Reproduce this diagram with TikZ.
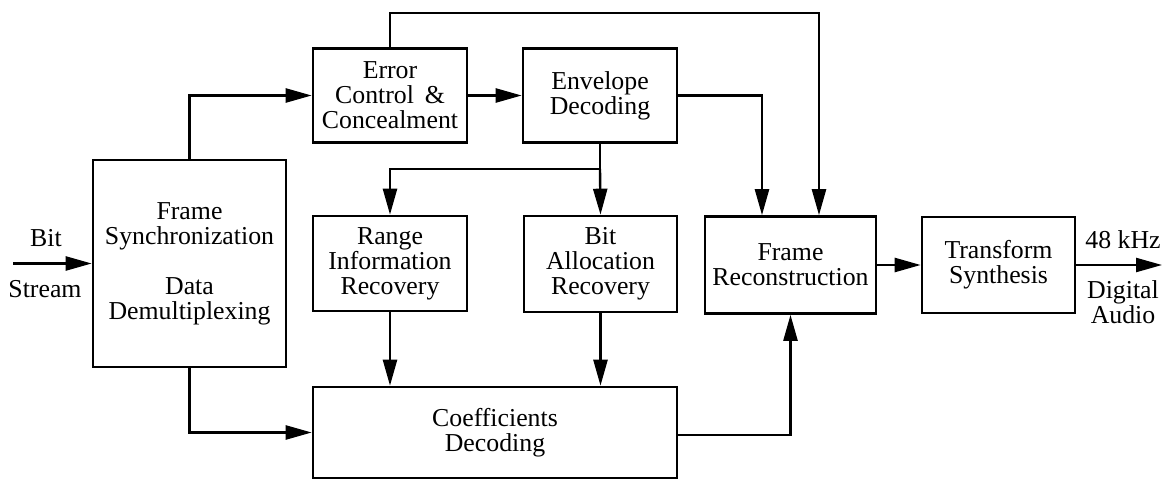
\documentclass[tikz,border=0pt]{standalone}
\usepackage{fontspec}
\setmainfont{Liberation Serif}
\usetikzlibrary{arrows.meta,calc}
\begin{document}
\begin{tikzpicture}[x=0.5pt,y=-0.5pt,
  font=\fontsize{12.9pt}{12.5pt}\selectfont\rmfamily,
  blk/.style={draw,line width=1.3pt,align=center,inner sep=0pt,
    minimum width=#1},
  arr/.style={line width=1.2pt,-{Triangle[length=13pt,width=7pt]}},
  ln/.style={line width=1.2pt},
  lbl/.style={align=center,inner sep=0pt}]
\useasboundingbox (0,0) rectangle (1172,481);

% processing blocks
\node[blk=96.5pt,minimum height=103.5pt] (sync) at (189.5,263.5)
  {Frame\\Synchronization\\[12.5pt]Data\\Demultiplexing};
\node[blk=77pt,minimum height=47pt] (err) at (390,95.5)
  {Error\\Control \,\&\\Concealment};
\node[blk=77pt,minimum height=47pt] (env) at (600,95.5)
  {Envelope\\Decoding};
\node[blk=77pt,minimum height=47.5pt] (range) at (390,263.5)
  {Range\\Information\\Recovery};
\node[blk=76.5pt,minimum height=48pt] (alloc) at (600.5,264)
  {Bit\\Allocation\\Recovery};
\node[blk=85.5pt,minimum height=48.5pt] (recon) at (790.5,265)
  {Frame\\Reconstruction};
\node[blk=76.5pt,minimum height=48pt] (trans) at (998.5,265)
  {Transform\\Synthesis};
\node[blk=182pt,minimum height=45.5pt] (coeff) at (495,432.5)
  {Coefficients\\Decoding};

% free ends and bends
\coordinate (in) at (13,263.5);
\coordinate (out) at (1162,265);
\coordinate (top) at (819,13);
\coordinate (split) at (600,169);
\coordinate (rA) at ($(recon.north)+(-28.5,0)$);
\coordinate (rB) at ($(recon.north)+(28.5,0)$);

% external labels
\node[lbl] (bitlbl) at (46,238) {Bit};
\node[lbl] (streamlbl) at (45,289) {Stream};
\node[lbl] (khz) at (1123,240) {48 kHz};
\node[lbl] (audio) at (1123,302) {Digital\\Audio};

% connectors
\draw[arr] (in) -- (sync.west);
\draw[arr] (sync.north) |- (err.west);
\draw[arr] (err.east) -- (env.west);
\draw[arr] (err.north) |- (top) -- (rB);
\draw[arr] (env.east) -| (rA);
\draw[ln] (env.south) -- (split);
\draw[arr] (split) -- (alloc.north);
\draw[arr] (split) -| (range.north);
\draw[arr] (range.south) -- (range.south |- coeff.north);
\draw[arr] (alloc.south) -- (alloc.south |- coeff.north);
\draw[arr] (sync.south) |- (coeff.west);
\draw[arr] ($(coeff.east)+(0,2.5)$) -| (recon.south);
\draw[arr] (recon.east) -- (trans.west);
\draw[arr] (trans.east) -- (out);
\end{tikzpicture}
\end{document}
